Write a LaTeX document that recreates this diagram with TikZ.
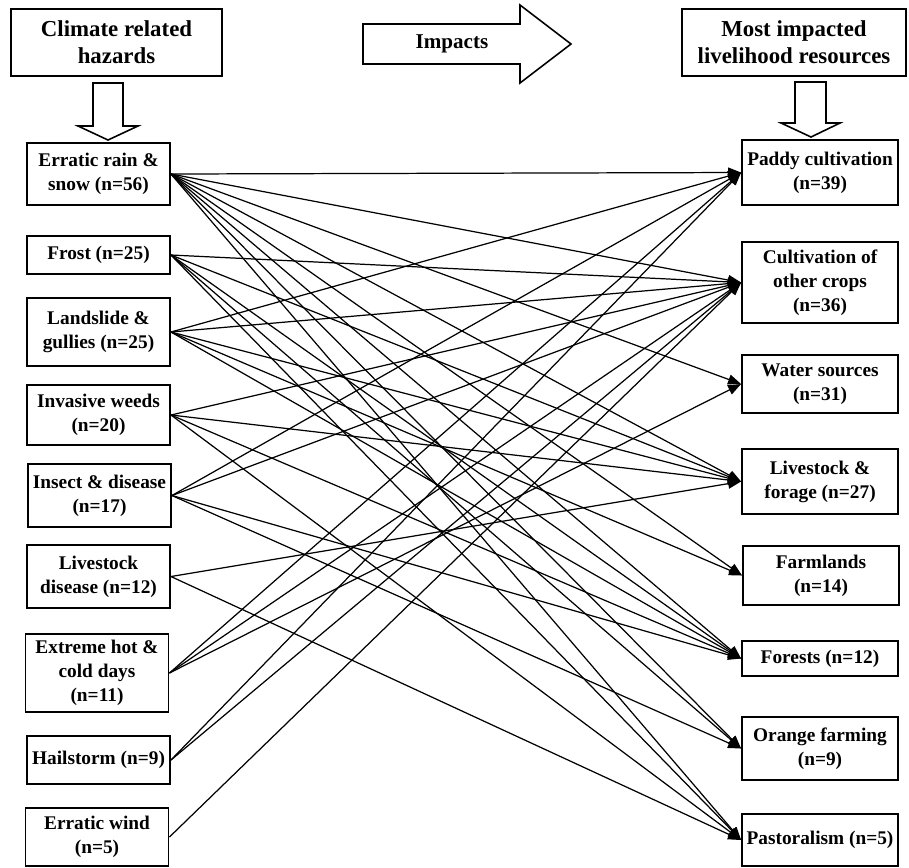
\documentclass[tikz,border=0pt]{standalone}
\usepackage{fontspec}
\setmainfont{Liberation Serif}
\usetikzlibrary{arrows.meta,positioning}
\tikzset{
  hazard/.style={draw, line width=1.1pt, fill=white, minimum width=2.86cm, align=center, inner sep=1pt,
    font=\bfseries\fontsize{11}{13.6}\selectfont},
  resource/.style={hazard, minimum width=3.12cm},
  headbox/.style={draw, line width=1.1pt, align=center, inner sep=0pt, minimum height=1.34cm,
    font=\bfseries\fontsize{13}{15.3}\selectfont},
  blockarrow/.style={draw, line width=0.9pt, line join=miter},
  link/.style={line width=0.7pt, -{Triangle[length=0.26cm,width=0.2cm]}}
}

\begin{document}
\begin{tikzpicture}[x=0.02cm, y=-0.02cm]
  \useasboundingbox (0,0) rectangle (909,867);

  % headings and block arrows
  \node[headbox, minimum width=4.22cm] (hazhead) at (116.5,42.5) {Climate related\\hazards};
  \node[headbox, minimum width=4.48cm] (reshead) at (794,42.5) {Most impacted\\livelihood resources};
  \draw[blockarrow] (363,24) -- (520,24) -- (520,5) -- (571,44) -- (520,83) -- (520,64) -- (363,64) -- cycle;
  \node[font=\bfseries\fontsize{12}{14}\selectfont] (impacts) at (452,44) {Impacts};
  \draw[blockarrow] (93,83) -- (123,83) -- (123,126) -- (138,126) -- (108,140) -- (78,126) -- (93,126) -- cycle;
  \draw[blockarrow] (795,82) -- (826,82) -- (826,123) -- (840,123) -- (811,137) -- (781,123) -- (795,123) -- cycle;

  % hazards
  \node[hazard, minimum height=1.24cm] (rain) at (98.5,174) {Erratic rain \&\\snow (n=56)};
  \node[hazard, minimum height=0.76cm] (frost) at (98.5,255) {Frost (n=25)};
  \node[hazard, minimum height=1.36cm] (slide) at (98.5,332) {Landslide \&\\gullies (n=25)};
  \node[hazard, minimum height=1.2cm] (weeds) at (98.5,415) {Invasive weeds\\(n=20)};
  \node[hazard, minimum height=1.26cm] (insect) at (99.5,495.5) {Insect \& disease\\(n=17)};
  \node[hazard, minimum height=1.26cm] (lsdis) at (98.5,576.5) {Livestock\\disease (n=12)};
  \node[hazard, minimum height=1.56cm] (hotcold) at (97,673) {Extreme hot \&\\cold days\\(n=11)};
  \node[hazard, minimum height=0.96cm] (hail) at (98.5,760) {Hailstorm (n=9)};
  \node[hazard, minimum height=1.16cm] (wind) at (97,837) {Erratic wind\\(n=5)};

  % resources
  \node[resource, minimum height=1.3cm] (paddy) at (820,172.5) {Paddy cultivation\\(n=39)};
  \node[resource, minimum height=1.62cm] (crops) at (820,282.5) {Cultivation of\\other crops\\(n=36)};
  \node[resource, minimum height=1.16cm] (water) at (820,384) {Water sources\\(n=31)};
  \node[resource, minimum height=1.3cm] (forage) at (820,481.5) {Livestock \&\\forage (n=27)};
  \node[resource, minimum height=1.18cm] (farm) at (821,575.5) {Farmlands\\(n=14)};
  \node[resource, minimum height=0.7cm] (forest) at (820,658.5) {Forests (n=12)};
  \node[resource, minimum height=1.26cm] (orange) at (820,748.5) {Orange farming\\(n=9)};
  \node[resource, minimum height=1.04cm] (pastoral) at (820,840) {Pastoralism (n=5)};

  % impacts
  \foreach \s/\tl in {rain/{paddy,crops,water,forage,farm,forest,orange,pastoral},
                      frost/{crops,forage,forest,orange,pastoral},
                      slide/{paddy,crops,forage,farm,forest},
                      weeds/{crops,forage,forest,pastoral},
                      insect/{paddy,crops,forest,orange},
                      lsdis/{forage,pastoral},
                      hotcold/{paddy,crops,water},
                      hail/{paddy,crops},
                      wind/{crops}}
    \foreach \t in \tl
      \draw[link] (\s.east) -- (\t.west);
\end{tikzpicture}
\end{document}
